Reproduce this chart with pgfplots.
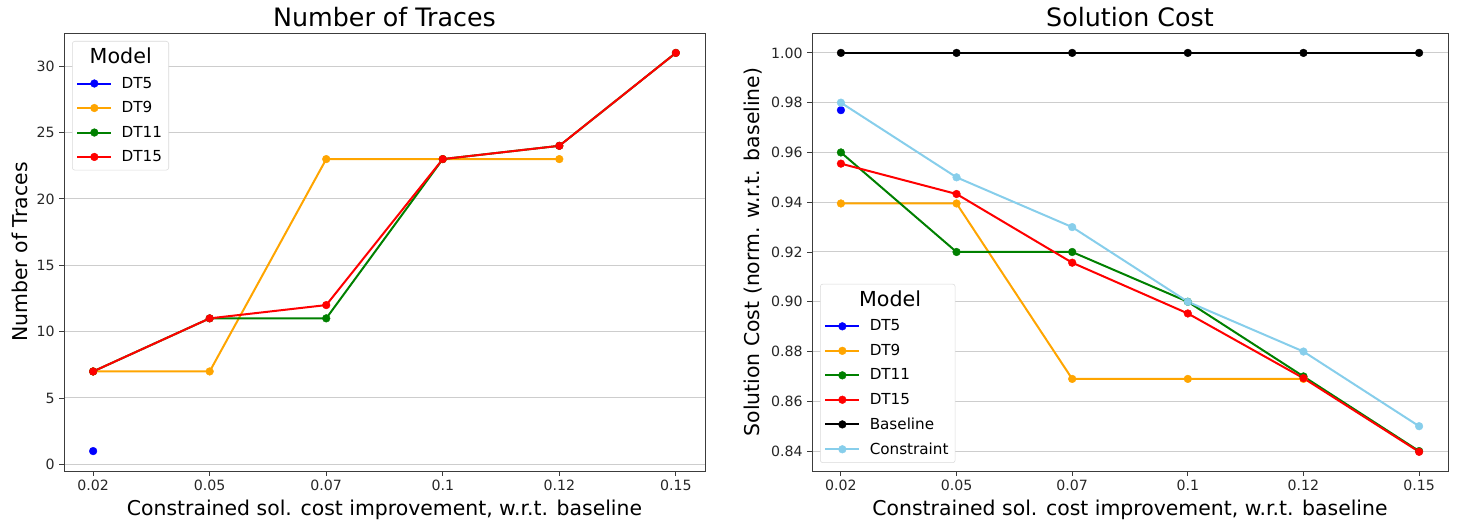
\documentclass[border=0pt]{standalone}
\usepackage{fontspec}
\setmainfont{DejaVu Sans}
\usepackage{pgfplots}
\pgfplotsset{compat=1.18}
\definecolor{c5}{RGB}{0,0,255}
\definecolor{c9}{RGB}{255,165,0}
\definecolor{c11}{RGB}{0,128,0}
\definecolor{c15}{RGB}{255,0,0}
\definecolor{csky}{RGB}{135,206,235}
\definecolor{gridc}{RGB}{205,205,205}
\definecolor{axc}{RGB}{60,60,60}
\pgfplotsset{
 mystyle/.style={
  scale only axis, height=328.5pt,
  xmin=-0.25, xmax=5.25, xtick={0,...,5},
  xticklabels={0.02,0.05,0.07,0.1,0.12,0.15},
  ymajorgrids, grid style={gridc, line width=0.75pt},
  axis line style={axc, line width=0.7pt},
  tick style={axc, line width=0.7pt},
  tick align=outside, major tick length=3.5pt, tick pos=left,
  ticklabel style={font=\fontsize{10.6}{12.5}\selectfont, text=black!85},
  /pgf/number format/assume math mode=true,
  label style={font=\fontsize{15.3}{18}\selectfont},
  title style={font=\fontsize{19}{22}\selectfont, at={(0.5,1)}, anchor=base, yshift=-1.5pt},
  every axis plot/.append style={line width=1.5pt, mark=*, mark size=2.9pt, mark options={line width=0.3pt}},
  legend cell align=left,
  legend style={draw=black!15, rounded corners=2pt, font=\fontsize{11.4}{13}\selectfont,
    row sep=4.5pt, inner sep=3pt, /tikz/every odd column/.append style={column sep=5pt}},
  legend image code/.code={\draw[mark repeat=2,mark phase=2] plot coordinates {(0cm,0cm)(0.45cm,0cm)(0.9cm,0cm)};},
 }
}
\begin{document}
\begin{tikzpicture}
\useasboundingbox (0,0) rectangle (1094.25pt,395.25pt);
\begin{axis}[mystyle, at={(48pt,42pt)}, anchor=south west, width=480.75pt,
  ymin=-0.5, ymax=32.5, ytick={0,5,10,15,20,25,30},
  title={Number of Traces},
  xlabel={Constrained sol. cost improvement, w.r.t. baseline},
  ylabel={Number of Traces},
  legend style={at={(0,1)}, anchor=north west, xshift=6pt, yshift=-6pt}]
\addlegendimage{empty legend}
\addlegendentry{\hspace{-24pt}\fontsize{15.5}{17}\selectfont Model}
\addplot[c5] coordinates {(0,1)};
\addlegendentry{DT5}
\addplot[c9] coordinates {(0,7)(1,7)(2,23)(3,23)(4,23)};
\addlegendentry{DT9}
\addplot[c11] coordinates {(0,7)(1,11)(2,11)(3,23)(4,24)(5,31)};
\addlegendentry{DT11}
\addplot[c15] coordinates {(0,7)(1,11)(2,12)(3,23)(4,24)(5,31)};
\addlegendentry{DT15}
\end{axis}
\begin{axis}[mystyle, at={(609pt,42pt)}, anchor=south west, width=477pt,
  ymin=0.832, ymax=1.008, ytick={0.84,0.86,0.88,0.90,0.92,0.94,0.96,0.98,1.00},
  yticklabel style={/pgf/number format/fixed, /pgf/number format/fixed zerofill, /pgf/number format/precision=2},
  title={Solution Cost},
  xlabel={Constrained sol. cost improvement, w.r.t. baseline},
  ylabel={Solution Cost (norm. w.r.t. baseline)},
  legend style={at={(0,0)}, anchor=south west, xshift=6pt, yshift=6pt}]
\addlegendimage{empty legend}
\addlegendentry{\hspace{-8pt}\fontsize{15.5}{17}\selectfont Model}
\addplot[c5] coordinates {(0,0.977)};
\addlegendentry{DT5}
\addplot[c9] coordinates {(0,0.9395)(1,0.9395)(2,0.869)(3,0.869)(4,0.869)};
\addlegendentry{DT9}
\addplot[c11] coordinates {(0,0.96)(1,0.92)(2,0.92)(3,0.90)(4,0.87)(5,0.84)};
\addlegendentry{DT11}
\addplot[c15] coordinates {(0,0.9555)(1,0.9433)(2,0.9157)(3,0.8953)(4,0.8693)(5,0.8397)};
\addlegendentry{DT15}
\addplot[black] coordinates {(0,1)(1,1)(2,1)(3,1)(4,1)(5,1)};
\addlegendentry{Baseline}
\addplot[csky] coordinates {(0,0.98)(1,0.95)(2,0.93)(3,0.90)(4,0.88)(5,0.85)};
\addlegendentry{Constraint}
\end{axis}
\end{tikzpicture}
\end{document}
